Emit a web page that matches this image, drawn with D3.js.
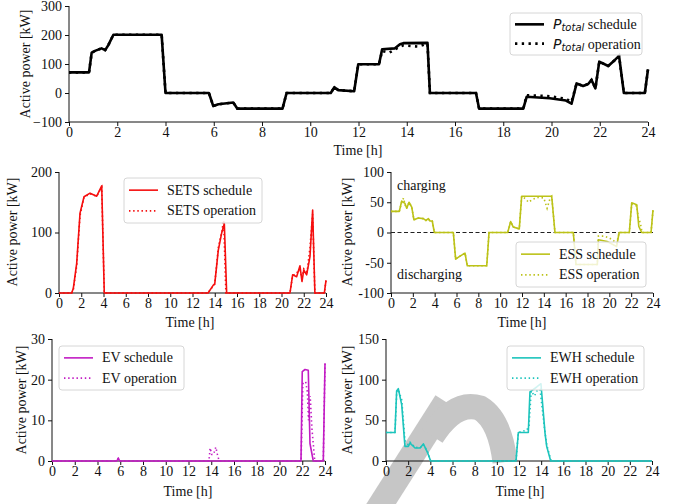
<!DOCTYPE html>
<html>
<head>
<meta charset="utf-8">
<script src="https://cdn.jsdelivr.net/npm/d3@7"></script>
<style>
  body { margin: 0; background: #fff; }
  text { font-family: "Liberation Serif", "Times New Roman", serif; font-size: 14px; fill: #111; }
  .tick line, .domain { stroke: #111; }
</style>
</head>
<body>
<div id="chart"></div>
<script>
/* CONSTANTS AND GLOBALS */
const width = 687,
  height = 504;

const hourTicks = [0, 2, 4, 6, 8, 10, 12, 14, 16, 18, 20, 22, 24];

/* DATA: [hour, kW] */
const totalSchedule = [[0,71],[0.83,71],[0.94,139],[1.1,146],[1.35,154],[1.5,148],[1.63,165],[1.84,201],[3.84,201],[4.0,0],[5.8,0],[5.98,-45],[6.19,-39],[6.81,-33],[6.98,-54],[8.85,-54],[9.02,0],[10.85,0],[11.0,20],[11.16,10],[11.82,6],[11.99,99],[12.85,99],[12.98,151],[13.51,154],[13.72,168],[13.86,172],[14.86,173],[14.96,0],[16.87,0],[17.0,-54],[18.83,-54],[18.97,-13],[19.93,-18],[20.6,-26],[20.83,-37],[21.04,33],[21.31,24],[21.52,31],[21.66,45],[21.82,16],[21.98,108],[22.35,93],[22.63,114],[22.8,128],[23.0,0],[23.87,0],[24.0,82]];
const totalOperation = [[0,71],[0.83,71],[0.94,139],[1.1,146],[1.35,154],[1.5,148],[1.63,165],[1.84,201],[3.84,201],[4.0,0],[5.8,0],[5.98,-45],[6.19,-39],[6.81,-33],[6.98,-54],[8.85,-54],[9.02,0],[10.85,0],[11.0,20],[11.16,10],[11.82,6],[11.99,99],[12.85,99],[12.98,145],[13.27,139],[13.51,150],[13.72,160],[13.86,164],[14.48,160],[14.86,170],[14.96,0],[16.87,0],[17.0,-54],[18.83,-54],[18.97,-8],[19.93,-11],[20.6,-20],[20.83,-31],[21.04,33],[21.31,24],[21.52,31],[21.66,45],[21.82,16],[21.98,108],[22.35,93],[22.63,114],[22.8,128],[23.0,0],[23.87,0],[24.0,82]];

const setsSchedule = [[0,0],[1.14,0],[1.29,8],[1.59,49],[1.89,132],[2.25,159],[2.79,165],[3.39,160],[3.84,177],[4.07,0],[13.4,0],[13.87,13],[14.0,15],[14.32,71],[14.62,99],[14.86,115],[15.07,0],[20.76,0],[21.0,30],[21.36,27],[21.66,45],[21.84,19],[22.0,38],[22.26,30],[22.56,60],[22.8,137],[23.0,0],[23.85,0],[24,21]];
const setsOperation = [[0,0],[1.14,0],[1.29,6],[1.59,45],[1.89,128],[2.25,158],[2.79,164],[3.39,160],[3.84,175],[4.07,0],[13.4,0],[13.6,6],[13.87,11],[14.0,15],[14.32,75],[14.62,100],[14.8,120],[15.0,0],[20.76,0],[21.0,28],[21.4,34],[21.66,38],[21.84,25],[22.0,40],[22.3,35],[22.56,75],[22.8,130],[23.0,0],[23.85,0],[24,21]];

const essSchedule = [[0,35],[0.76,35],[0.98,52],[1.28,48],[1.44,40],[1.65,50],[1.9,42],[2.1,21],[2.5,24],[2.96,23],[3.2,20],[3.42,23],[3.57,19],[3.78,19],[3.97,0],[5.71,0],[5.92,-44],[6.32,-39],[6.78,-34],[6.99,-55],[8.77,-55],[8.98,0],[10.69,0],[10.96,18],[11.2,9],[11.75,6],[11.97,60],[14.72,60],[15.02,0],[16.7,0],[16.95,-53],[18.9,-53],[19.0,-12],[19.8,-15],[20.67,-23],[20.9,0],[21.83,0],[22.05,49],[22.51,46],[22.7,10],[22.96,0],[23.82,0],[24,37]];
const essOperation = [[0,35],[0.76,35],[0.98,50],[1.15,57],[1.3,45],[1.44,40],[1.65,50],[1.9,42],[2.1,21],[2.5,24],[2.96,23],[3.2,20],[3.42,23],[3.57,19],[3.78,19],[3.97,0],[5.71,0],[5.92,-44],[6.32,-39],[6.78,-34],[6.99,-55],[8.77,-55],[8.98,0],[10.69,0],[10.96,18],[11.2,9],[11.75,6],[11.97,60],[12.3,56],[12.6,50],[13.0,55],[13.5,58],[14.0,57],[14.3,40],[14.6,58],[14.72,60],[15.02,0],[16.7,0],[16.95,-53],[18.9,-53],[19.0,-6],[19.5,-6],[20.0,-9],[20.5,-15],[20.67,-18],[20.9,0],[21.83,0],[22.05,47],[22.5,44],[22.65,25],[22.85,15],[23.0,0],[23.82,0],[24,37]];

const evSchedule = [[0,0],[5.7,0],[5.83,0.7],[5.95,0],[21.89,0],[22.0,22],[22.24,22.5],[22.53,22.3],[22.68,4.3],[22.97,0],[23.85,0],[24,24]];
const evOperation = [[0,0],[5.7,0],[5.83,0.6],[5.95,0],[13.8,0],[13.9,3.2],[14.05,1.6],[14.2,1.6],[14.4,3.4],[14.55,1.5],[14.7,0],[21.9,0],[22.05,19],[22.3,19.5],[22.45,17],[22.55,10],[22.7,16],[22.85,8],[23.1,0],[23.85,0],[24,24]];

const ewhSchedule = [[0,35],[0.81,35],[0.96,86],[1.11,89],[1.42,69],[1.71,18],[2.01,18],[2.17,22],[2.62,16],[3.07,16],[3.37,21],[3.73,11],[4.03,0],[11.73,0],[11.94,35],[12.84,35],[12.99,85],[13.6,91],[13.98,95],[14.35,34],[14.5,18],[14.86,0],[24,0]];
const ewhOperation = [[0,35],[0.81,35],[0.96,82],[1.11,88],[1.42,75],[1.71,25],[2.01,20],[2.17,23],[2.62,17],[3.07,16],[3.37,20],[3.73,12],[4.03,0],[11.73,0],[11.94,35],[12.7,38],[12.9,43],[13.1,86],[13.4,80],[13.6,86],[13.9,88],[14.3,40],[14.5,20],[14.9,0],[24,0]];

/* PANELS (layout only) */
const panels = [
  { id: "total", left: 69, right: 648, top: 6, bottom: 122, yDomain: [-100, 300], yTicks: [-100, 0, 100, 200, 300],
    minus: "\u2212", color: "#000", lw: 2.6, sched: totalSchedule, oper: totalOperation,
    yLabel: [25, 64], xLabel: [358, 155],
    legend: { x: 510, y: 13, w: 132, h: 42, names: ["schedule", "operation"], math: true } },
  { id: "sets", left: 59, right: 326, top: 172, bottom: 293, yDomain: [0, 200], yTicks: [0, 100, 200],
    minus: "-", color: "#f50f0f", lw: 1.6, sched: setsSchedule, oper: setsOperation,
    yLabel: [12, 232], xLabel: [190, 327],
    legend: { x: 124, y: 178, w: 138, h: 45, names: ["SETS schedule", "SETS operation"] } },
  { id: "ess", left: 391, right: 653, top: 172, bottom: 293, yDomain: [-100, 100], yTicks: [-100, -50, 0, 50, 100],
    minus: "-", color: "#bcc219", lw: 1.6, sched: essSchedule, oper: essOperation, zeroLine: true,
    yLabel: [347, 232], xLabel: [522, 327],
    legend: { x: 516, y: 242, w: 130, h: 45, names: ["ESS schedule", "ESS operation"] } },
  { id: "ev", left: 52, right: 325, top: 339, bottom: 461, yDomain: [0, 30], yTicks: [0, 10, 20, 30],
    minus: "-", color: "#c21cc4", lw: 1.6, sched: evSchedule, oper: evOperation,
    yLabel: [21, 400], xLabel: [188, 496],
    legend: { x: 59, y: 346, w: 125, h: 44, names: ["EV schedule", "EV operation"] } },
  { id: "ewh", left: 386, right: 652, top: 339, bottom: 461, yDomain: [0, 150], yTicks: [0, 50, 100, 150],
    minus: "-", color: "#1cc4bc", lw: 1.6, sched: ewhSchedule, oper: ewhOperation,
    yLabel: [347, 400], xLabel: [520, 496],
    legend: { x: 507, y: 346, w: 137, h: 44, names: ["EWH schedule", "EWH operation"] } }
];

let svg;

init();

function init() {
  svg = d3.select("#chart")
    .append("svg")
    .attr("width", width)
    .attr("height", height);

  svg.append("rect").attr("width", width).attr("height", height).attr("fill", "#fff");

  // faint grey watermark strokes behind the lower right panel
  const mark = svg.append("g")
    .attr("fill", "none")
    .attr("stroke", "#c6c6c6")
    .attr("stroke-width", 25);
  mark.append("path").attr("d", "M376,512 L446,402");
  mark.append("path").attr("d", "M432,436 Q455,400 480,408 Q500,420 505,462");

  panels.forEach(drawPanel);

  // the "charging" / "discharging" notes of the ESS panel
  svg.append("text").attr("x", 397).attr("y", 190).text("charging");
  svg.append("text").attr("x", 397).attr("y", 279).text("discharging");
}

function drawPanel(p) {
  const xScale = d3.scaleLinear().domain([0, 24]).range([p.left, p.right]);
  const yScale = d3.scaleLinear().domain(p.yDomain).range([p.bottom, p.top]);

  const g = svg.append("g").attr("class", p.id);

  // + AXES
  const xAxis = d3.axisBottom(xScale).tickValues(hourTicks).tickSize(4).tickPadding(1);
  const yAxis = d3.axisLeft(yScale).tickValues(p.yTicks).tickSize(4).tickPadding(3)
    .tickFormat(d => (d < 0 ? p.minus + Math.abs(d) : d));

  g.append("g")
    .attr("class", "axis x-axis")
    .attr("transform", `translate(0,${p.bottom})`)
    .call(xAxis)
    .call(a => a.selectAll("text").attr("font-family", null).attr("font-size", null).attr("fill", null));

  g.append("g")
    .attr("class", "axis y-axis")
    .attr("transform", `translate(${p.left},0)`)
    .call(yAxis)
    .call(a => a.selectAll("text").attr("font-family", null).attr("font-size", null).attr("fill", null));

  g.selectAll(".domain").attr("d", function () {
    return d3.select(this.parentNode).classed("x-axis")
      ? `M${p.left},0H${p.right}` : `M0,${p.top}V${p.bottom}`;
  });

  g.append("text")
    .attr("transform", `translate(${p.yLabel[0]},${p.yLabel[1]}) rotate(-90)`)
    .attr("text-anchor", "middle")
    .attr("dominant-baseline", "central")
    .text("Active power [kW]");

  g.append("text")
    .attr("x", p.xLabel[0])
    .attr("y", p.xLabel[1])
    .attr("text-anchor", "middle")
    .text("Time [h]");

  if (p.zeroLine) {
    g.append("line")
      .attr("x1", xScale(0)).attr("x2", xScale(24))
      .attr("y1", yScale(0)).attr("y2", yScale(0))
      .attr("stroke", "#222")
      .attr("stroke-width", 1.1)
      .attr("stroke-dasharray", "4,2.5");
  }

  // + DRAW LINES
  const lineFunc = d3.line()
    .x(d => xScale(d[0]))
    .y(d => yScale(d[1]));

  const dots = `${p.lw * 0.9},${p.lw * 1.7}`;

  g.append("path")
    .datum(p.sched)
    .attr("fill", "none")
    .attr("stroke", p.color)
    .attr("stroke-width", p.lw)
    .attr("stroke-linejoin", "round")
    .attr("d", lineFunc);

  g.append("path")
    .datum(p.oper)
    .attr("fill", "none")
    .attr("stroke", p.color)
    .attr("stroke-width", p.lw)
    .attr("stroke-dasharray", dots)
    .attr("d", lineFunc);

  // + LEGEND
  const L = p.legend;
  const lg = g.append("g").attr("transform", `translate(${L.x},${L.y})`);
  lg.append("rect")
    .attr("width", L.w).attr("height", L.h)
    .attr("rx", 3)
    .attr("fill", "#fff").attr("fill-opacity", 0.8)
    .attr("stroke", "#d6d6d6");

  [0, 1].forEach(i => {
    const cy = L.h * (i === 0 ? 0.27 : 0.73);
    lg.append("line")
      .attr("x1", 5).attr("x2", 34)
      .attr("y1", cy).attr("y2", cy)
      .attr("stroke", p.color)
      .attr("stroke-width", p.lw)
      .attr("stroke-dasharray", i === 0 ? null : dots);
    const t = lg.append("text").attr("x", 43).attr("y", cy).attr("dominant-baseline", "central");
    if (L.math) {
      t.append("tspan").attr("font-family", "DejaVu Sans").attr("font-style", "italic").attr("font-size", 14).text("P");
      t.append("tspan").attr("font-family", "DejaVu Sans").attr("font-style", "italic").attr("font-size", 10).attr("dy", 3).text("total");
      t.append("tspan").attr("dy", -3).text(" " + L.names[i]);
    } else {
      t.text(L.names[i]);
    }
  });
}
</script>
</body>
</html>
